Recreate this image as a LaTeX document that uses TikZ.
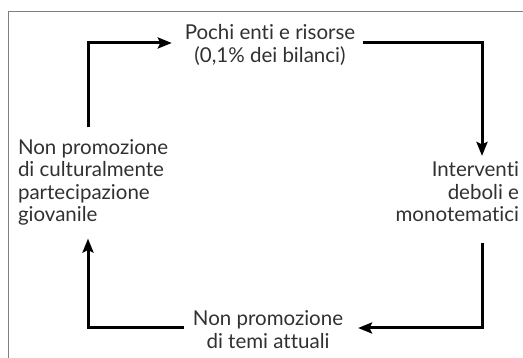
\documentclass[tikz,border=0pt]{standalone}
\usepackage{fontspec}
\setmainfont{Lato}[Ligatures={NoCommon,NoRare}]
\usepackage{xcolor}
\usepackage{tikz}
\usetikzlibrary{arrows.meta,positioning,calc}
\definecolor{framegray}{RGB}{128,128,128}
\definecolor{textdark}{RGB}{50,48,48}

\begin{document}
\begin{tikzpicture}[
  x=1pt, y=1pt,
  txt/.style = {
    inner sep=0pt, outer sep=0pt, text=textdark,
    font=\fontsize{20.5}{22.5}\selectfont
  },
  arr/.style = {-{Stealth[length=14pt,width=11pt,inset=2.5pt]}, line width=3pt, black}
]
  \useasboundingbox (0,0) rectangle (523,358);
  \draw[framegray, line width=1.5pt] (8.5,0) -- (8.5,346.5) -- (523,346.5);

  \node[txt, align=center]             (risorse) at (270,313)   {Pochi enti e risorse\\(0,1\% dei bilanci)};
  \node[txt, align=right, anchor=east] (interv)  at (519,166)   {Interventi\\deboli e\\monotematici};
  \node[txt, align=center]             (temi)    at (268,28.5)  {Non promozione\\di temi attuali};
  \node[txt, align=left, anchor=west]  (giovani) at (18,175.5)  {Non promozione\\di culturalmente\\partecipazione\\giovanile};

  \draw[arr] ([xshift=70pt,yshift=12pt]giovani.north west) |- ([xshift=-13pt,yshift=2pt]risorse.west);
  \draw[arr] ([xshift=8pt,yshift=2pt]risorse.east) -| ([xshift=-37pt,yshift=6pt]interv.north east);
  \draw[arr] ([xshift=-37pt,yshift=-21pt]interv.south east) |- ([xshift=15pt,yshift=1.5pt]temi.east);
  \draw[arr] ([xshift=-9pt,yshift=1.5pt]temi.west) -| ([xshift=70pt,yshift=-13pt]giovani.south west);
\end{tikzpicture}
\end{document}
